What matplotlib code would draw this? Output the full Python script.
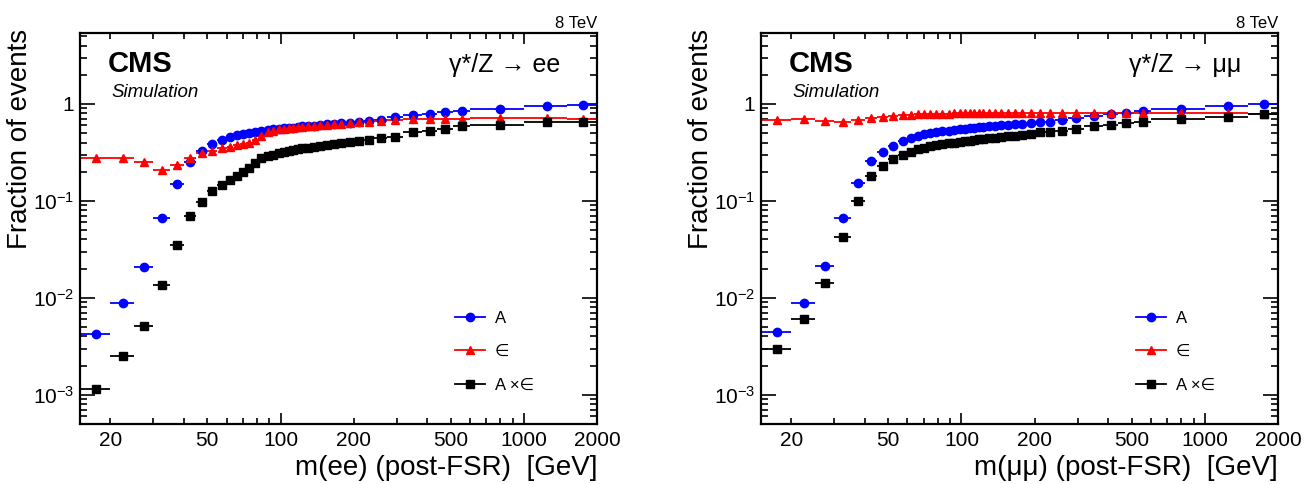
import numpy as np
import matplotlib
matplotlib.use('Agg')
import matplotlib.pyplot as plt
from matplotlib.lines import Line2D
from matplotlib.ticker import FixedLocator, LogLocator, NullFormatter, FuncFormatter

plt.rcParams['font.family'] = ['Liberation Sans', 'DejaVu Sans']
plt.rcParams['mathtext.default'] = 'regular'
plt.rcParams['axes.unicode_minus'] = False

# mass bins [GeV]
mass_edges = [15, 20, 25, 30, 35, 40, 45, 50, 55, 60, 64, 68, 72, 76, 81, 86, 91, 96,
              101, 106, 110, 115, 120, 126, 133, 141, 150, 160, 171, 185, 200, 220,
              243, 273, 320, 380, 440, 510, 600, 1000, 1500, 2000]

# ee channel
ee_acc = [4.2e-3, 8.9e-3, 0.021, 0.067, 0.15, 0.25, 0.33, 0.385, 0.42, 0.455, 0.475,
          0.49, 0.50, 0.515, 0.525, 0.535, 0.545, 0.55, 0.558, 0.565, 0.57, 0.578,
          0.585, 0.59, 0.598, 0.605, 0.615, 0.622, 0.63, 0.64, 0.65, 0.665, 0.685,
          0.73, 0.775, 0.795, 0.82, 0.845, 0.895, 0.95, 0.975]
ee_eff = [0.277, 0.28, 0.25, 0.21, 0.237, 0.28, 0.31, 0.33, 0.35, 0.362, 0.374, 0.386,
          0.40, 0.425, 0.47, 0.51, 0.53, 0.545, 0.555, 0.56, 0.567, 0.575, 0.58, 0.59,
          0.595, 0.605, 0.612, 0.62, 0.628, 0.635, 0.645, 0.655, 0.67, 0.69, 0.70,
          0.695, 0.70, 0.70, 0.71, 0.715, 0.70]
ee_accxeff = [1.15e-3, 2.5e-3, 5.1e-3, 0.0137, 0.035, 0.0706, 0.098, 0.126, 0.146,
              0.166, 0.182, 0.20, 0.218, 0.245, 0.274, 0.288, 0.30, 0.31, 0.318, 0.325,
              0.333, 0.34, 0.347, 0.354, 0.362, 0.37, 0.378, 0.386, 0.395, 0.405, 0.415,
              0.428, 0.44, 0.46, 0.51, 0.528, 0.553, 0.585, 0.605, 0.645, 0.648]

# mumu channel
mm_acc = [4.4e-3, 8.8e-3, 0.0213, 0.067, 0.152, 0.255, 0.32, 0.372, 0.415, 0.447, 0.472,
          0.488, 0.50, 0.51, 0.52, 0.53, 0.54, 0.548, 0.555, 0.562, 0.568, 0.575, 0.58,
          0.588, 0.595, 0.603, 0.61, 0.615, 0.622, 0.633, 0.645, 0.658, 0.685, 0.713,
          0.753, 0.79, 0.815, 0.85, 0.895, 0.95, 0.99]
mm_eff = [0.685, 0.706, 0.674, 0.648, 0.68, 0.72, 0.74, 0.755, 0.765, 0.772, 0.778,
          0.784, 0.788, 0.79, 0.793, 0.796, 0.798, 0.80, 0.80, 0.80, 0.80, 0.80,
          0.80, 0.80, 0.80, 0.80, 0.80, 0.80, 0.80, 0.80, 0.80, 0.80, 0.80,
          0.80, 0.80, 0.80, 0.805, 0.805, 0.80, 0.80, 0.79]
mm_accxeff = [2.96e-3, 6.1e-3, 0.0141, 0.0423, 0.10, 0.179, 0.231, 0.27, 0.30, 0.323,
              0.34, 0.352, 0.364, 0.375, 0.385, 0.395, 0.40, 0.407, 0.413, 0.418, 0.424,
              0.43, 0.436, 0.442, 0.448, 0.455, 0.462, 0.468, 0.478, 0.49, 0.508, 0.518,
              0.53, 0.553, 0.585, 0.608, 0.633, 0.648, 0.70, 0.74, 0.784]

x_ticklabels = [20, 50, 100, 200, 500, 1000, 2000]

edges = np.array(mass_edges, dtype=float)
centers = 0.5 * (edges[1:] + edges[:-1])
xerr = [centers - edges[:-1], edges[1:] - centers]

fig = plt.figure(figsize=(13.08, 4.84), dpi=100)

panels = [
    ([0.0612, 0.124, 0.3953, 0.808], ee_acc, ee_eff, ee_accxeff,
     '\u03b3*/Z \u2192 ee', 'm(ee) (post-FSR)  [GeV]'),
    ([0.5818, 0.124, 0.3953, 0.808], mm_acc, mm_eff, mm_accxeff,
     '\u03b3*/Z \u2192 \u03bc\u03bc', 'm(\u03bc\u03bc) (post-FSR)  [GeV]'),
]

def ylab(v, pos):
    if abs(v - 1) < 1e-9:
        return '1'
    return r'$10^{%d}$' % int(round(np.log10(v)))

def xlab(v, pos):
    for t in x_ticklabels:
        if abs(v - t) < 1e-6 * t:
            return str(t)
    return ''

for rect, acc, eff, axe, proc, xtitle in panels:
    ax = fig.add_axes(rect)
    ax.set_xscale('log')
    ax.set_yscale('log')

    ax.errorbar(centers, acc, xerr=xerr, fmt='o', color='#0000ff', ms=6,
                elinewidth=1.3, capsize=0)
    ax.errorbar(centers, eff, xerr=xerr, fmt='^', color='#ff0000', ms=6,
                elinewidth=1.3, capsize=0)
    ax.errorbar(centers, axe, xerr=xerr, fmt='s', color='black', ms=5.5,
                elinewidth=1.3, capsize=0)

    ax.set_xlim(15, 2000)
    ax.set_ylim(5e-4, 5.4)

    ax.xaxis.set_major_locator(FixedLocator([100, 1000]))
    ax.xaxis.set_minor_locator(FixedLocator([v * d for d in (10, 100) for v in range(2, 10)
                                             if v * d != 100] + [2000]))
    ax.xaxis.set_major_formatter(FuncFormatter(xlab))
    ax.xaxis.set_minor_formatter(FuncFormatter(xlab))
    ax.yaxis.set_major_locator(FixedLocator([1e-3, 1e-2, 1e-1, 1]))
    ax.yaxis.set_minor_locator(LogLocator(base=10, subs=np.arange(2, 10), numticks=20))
    ax.yaxis.set_major_formatter(FuncFormatter(ylab))
    ax.yaxis.set_minor_formatter(NullFormatter())

    ax.tick_params(axis='both', which='both', direction='in', top=True, right=True,
                   width=1.2, labelsize=15)
    ax.tick_params(axis='y', which='major', length=11, pad=4)
    ax.tick_params(axis='y', which='minor', length=5)
    ax.tick_params(axis='x', which='major', length=8, pad=5)
    ax.tick_params(axis='x', which='minor', length=4, pad=5)
    for s in ax.spines.values():
        s.set_linewidth(1.6)

    ax.set_xlabel(xtitle, fontsize=20, loc='right')
    ax.xaxis.set_label_coords(1.0, -0.08)
    ax.set_ylabel('Fraction of events', fontsize=20, loc='top')
    ax.yaxis.set_label_coords(-0.091, 1.01)

    ax.text(0.054, 0.901, 'CMS', transform=ax.transAxes, fontsize=21,
            fontweight='bold', va='baseline')
    ax.text(0.061, 0.837, 'Simulation', transform=ax.transAxes, fontsize=13.5,
            style='italic', va='baseline')
    ax.text(0.928, 0.901, proc, transform=ax.transAxes, fontsize=18,
            ha='right', va='baseline')
    ax.text(1.0, 1.013, '8 TeV', transform=ax.transAxes, fontsize=12,
            ha='right', va='baseline')

    handles = [Line2D([], [], color='#0000ff', marker='o', ms=6, lw=1.3),
               Line2D([], [], color='#ff0000', marker='^', ms=6, lw=1.3),
               Line2D([], [], color='black', marker='s', ms=5.5, lw=1.3)]
    ax.legend(handles, ['A', '\u2208', 'A \u00d7\u2208'], loc='upper left',
              bbox_to_anchor=(0.725, 0.29), frameon=False, fontsize=12,
              handlelength=1.8, handletextpad=0.6, labelspacing=1.12,
              borderpad=0, borderaxespad=0, numpoints=1)

fig.savefig('out.png', dpi=100)
